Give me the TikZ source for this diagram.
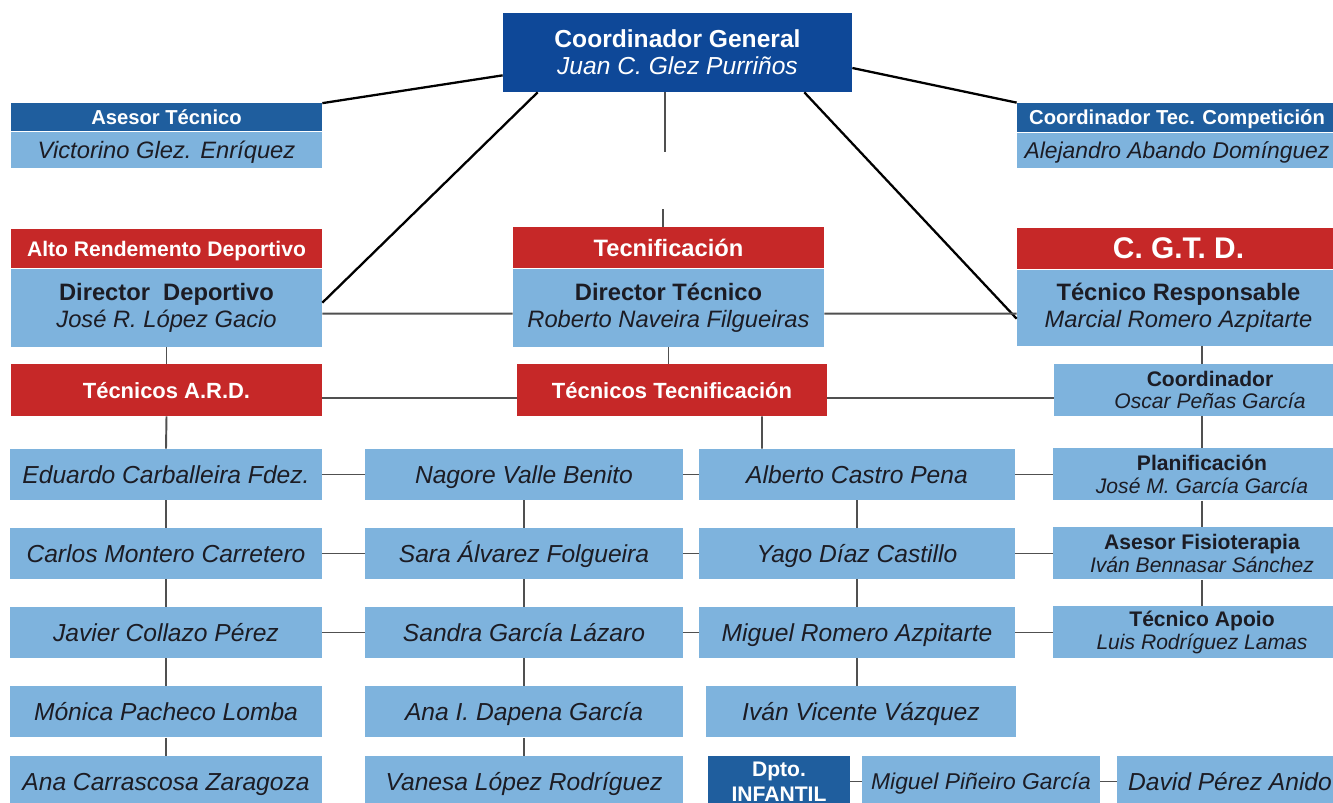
\documentclass[tikz,border=0pt]{standalone}
\usepackage{fontspec}
\setmainfont{Liberation Sans}
\usetikzlibrary{calc}
\definecolor{cgblue}{RGB}{14,72,152}
\definecolor{hdblue}{RGB}{31,94,158}
\definecolor{lblue}{RGB}{126,179,221}
\definecolor{ared}{RGB}{198,40,40}
\definecolor{txt}{RGB}{28,28,36}
\definecolor{lgray}{RGB}{80,80,80}
\tikzset{
	box/.style = {inner sep=0pt, align=center},
	hdbox/.style = {box, text=white},
	namebox/.style = {box, fill=lblue, text=txt, minimum height=1.02cm, text height=10pt, text depth=0pt, font=\fontsize{14}{15.5}\selectfont\itshape},
	bodybox/.style = {box, fill=lblue, text=txt, anchor=north, font=\fontsize{13.5}{15}\selectfont},
	rightbox/.style = {box, fill=lblue, text=txt, minimum width=5.96cm, minimum height=1.04cm, font=\fontsize{12}{13}\selectfont},
	link/.style = {draw=lgray, line width=1.1pt},
	mainlink/.style = {draw=black, line width=1.3pt}
}

\begin{document}
\begin{tikzpicture}
	\useasboundingbox (0,0) rectangle (26.66,-16.06);
	\node[hdbox, fill=cgblue, minimum width=6.98cm, minimum height=1.58cm, font=\fontsize{14}{15.5}\selectfont] (CG) at (13.55,-1.05) {\textbf{Coordinador General}\\\textit{Juan C. Glez Purriños}};
	\node[hdbox, fill=hdblue, minimum width=6.22cm, minimum height=0.56cm, text depth=0pt, font=\fontsize{11.5}{13}\selectfont\bfseries] (AT) at (3.33,-2.35) {Asesor Técnico};
	\node[bodybox, minimum width=6.22cm, minimum height=0.72cm, text height=9.7pt, text depth=0pt, font=\fontsize{13.5}{15}\selectfont\itshape] (ATn) at (AT.south) {Victorino Glez. Enríquez};
	\node[hdbox, fill=hdblue, minimum width=6.4cm, minimum height=0.58cm, text depth=0pt, font=\fontsize{11.5}{13}\selectfont\bfseries] (CT) at (23.54,-2.35) {Coordinador Tec. Competición};
	\node[bodybox, minimum width=6.4cm, minimum height=0.70cm, text height=9.3pt, text depth=0pt, font=\fontsize{13}{15}\selectfont\itshape] (CTn) at (CT.south) {Alejandro Abando Domínguez};

	\node[hdbox, fill=ared, minimum width=6.22cm, minimum height=0.78cm, text depth=0pt, font=\fontsize{12}{14}\selectfont\bfseries] (AD) at (3.33,-4.97) {Alto Rendemento Deportivo};
	\node[bodybox, minimum width=6.22cm, minimum height=1.56cm] (ADn) at (AD.south) {\textbf{Director~ Deportivo}\\\textit{José R. López Gacio}};
	\node[hdbox, fill=ared, minimum width=6.22cm, minimum height=0.82cm, text depth=0pt, font=\fontsize{13.5}{15}\selectfont\bfseries] (TE) at (13.37,-4.95) {Tecnificación};
	\node[bodybox, minimum width=6.22cm, minimum height=1.56cm] (TEn) at (TE.south) {\textbf{Director Técnico}\\\textit{Roberto Naveira Filgueiras}};
	\node[hdbox, fill=ared, minimum width=6.46cm, minimum height=0.82cm, text depth=0pt, font=\fontsize{17}{19}\selectfont\bfseries] (GD) at (23.57,-4.97) {C. G.T. D.};
	\node[bodybox, minimum width=6.46cm, minimum height=1.52cm] (GDn) at (GD.south) {\textbf{Técnico Responsable}\\\textit{Marcial Romero Azpitarte}};

	\node[hdbox, fill=ared, minimum width=6.22cm, minimum height=1.04cm, text depth=0pt, font=\fontsize{12.5}{14}\selectfont\bfseries] (TA) at (3.33,-7.80) {Técnicos A.R.D.};
	\node[hdbox, fill=ared, minimum width=6.2cm, minimum height=1.04cm, text depth=0pt, font=\fontsize{12.5}{14}\selectfont\bfseries] (TT) at (13.44,-7.80) {Técnicos Tecnificación};
	\node[rightbox, minimum width=6.24cm] (CO) at (24.2,-7.80) {\textbf{Coordinador}\\\textit{Oscar Peñas García}};

	\foreach \y/\t [count=\i] in {-9.49/Eduardo Carballeira Fdez., -11.07/Carlos Montero Carretero, -12.65/Javier Collazo Pérez, -14.24/Mónica Pacheco Lomba, -15.63/Ana Carrascosa Zaragoza}
		\node[namebox, minimum width=6.24cm] (L\i) at (3.32,\y) {\t};
	\foreach \y/\t [count=\i] in {-9.49/Nagore Valle Benito, -11.07/Sara Álvarez Folgueira, -12.65/Sandra García Lázaro, -14.24/Ana I. Dapena García, -15.63/Vanesa López Rodríguez}
		\node[namebox, minimum width=6.36cm] (M\i) at (10.48,\y) {\t};
	\foreach \y/\t [count=\i] in {-9.49/Alberto Castro Pena, -11.07/Yago Díaz Castillo, -12.65/Miguel Romero Azpitarte}
		\node[namebox, minimum width=6.32cm] (R\i) at (17.14,\y) {\t};
	\node[namebox, minimum width=6.2cm] (R4) at (17.22,-14.24) {Iván Vicente Vázquez};
	\foreach \y/\h/\t [count=\i] in {-9.49/Planificación/José M. García García, -11.07/Asesor Fisioterapia/Iván Bennasar Sánchez, -12.65/Técnico Apoio/Luis Rodríguez Lamas}
		\node[rightbox] (S\i) at (24.04,\y) {\textbf{\h}\\\textit{\t}};

	\node[hdbox, fill=hdblue, minimum width=2.84cm, minimum height=1.02cm, font=\fontsize{12}{14}\selectfont\bfseries] (DI) at (15.58,-15.63) {Dpto.\\INFANTIL};
	\node[namebox, minimum width=4.76cm, text height=9.3pt, font=\fontsize{13}{15}\selectfont\itshape] (MP) at (19.62,-15.63) {Miguel Piñeiro García};
	\node[namebox, minimum width=4.52cm] (DP) at (24.6,-15.63) {David Pérez Anido};

	\draw[mainlink] ($(CG.south west)+(0,0.34)$) -- (AT.north east);
	\draw[mainlink] ($(CG.east)+(0,-0.31)$) -- (CT.north west);
	\draw[mainlink] ($(CG.south west)+(0.7,0)$) -- ($(ADn.east)+(0,0.1)$);
	\draw[mainlink] ($(CG.south east)+(-0.96,0)$) -- ($(GDn.west)+(0,-0.22)$);
	\draw[link, line width=0.8pt] ($(CG.south)+(-0.25,0)$) -- ++(0,-1.2);
	\draw[link, line width=0.8pt] ($(TE.north)+(-0.11,0)$) -- ++(0,0.36);
	\draw[link] ($(ADn.east)+(0,-0.12)$) -- ($(TEn.west)+(0,-0.12)$);
	\draw[link] ($(TEn.east)+(0,-0.12)$) -- ($(GDn.west)+(0,-0.12)$);
	\draw[link] (ADn.south) -- (TA.north);
	\draw[link] (TEn.south) -- (TEn.south |- TT.north);
	\draw[link] (S1.north |- GDn.south) -- (S1.north |- CO.north);
	\draw[link] ($(TA.east)+(0,-0.16)$) -- ($(TT.west)+(0,-0.16)$);
	\draw[link] ($(TT.east)+(0,-0.16)$) -- ($(CO.west)+(0,-0.16)$);
	\draw[link] ($(TT.south)+(1.8,0)$) -- ($(R1.north)+(-1.9,0)$);

	\draw[link] (TA.south) -- (L1.north);
	\foreach \i in {1,...,4} {
		\pgfmathtruncatemacro\j{\i+1}
		\draw[link] (L\i.south) -- (L\j.north);
		\draw[link] (M\i.south) -- (M\j.north);
	}
	\foreach \i/\j in {1/2, 2/3, 3/4} \draw[link] (R\i.south) -- (R\i.south |- R\j.north);
	\draw[link] (S1.north |- CO.south) -- (S1.north);
	\draw[link] (S1.south) -- (S2.north);
	\draw[link] (S2.south) -- (S3.north);
	\foreach \i in {1,2,3} {
		\draw[link] (L\i) -- (M\i);
		\draw[link] (M\i) -- (R\i);
		\draw[link] (R\i) -- (S\i);
	}
	\draw[link] (DI) -- (MP) -- (DP);
\end{tikzpicture}
\end{document}
